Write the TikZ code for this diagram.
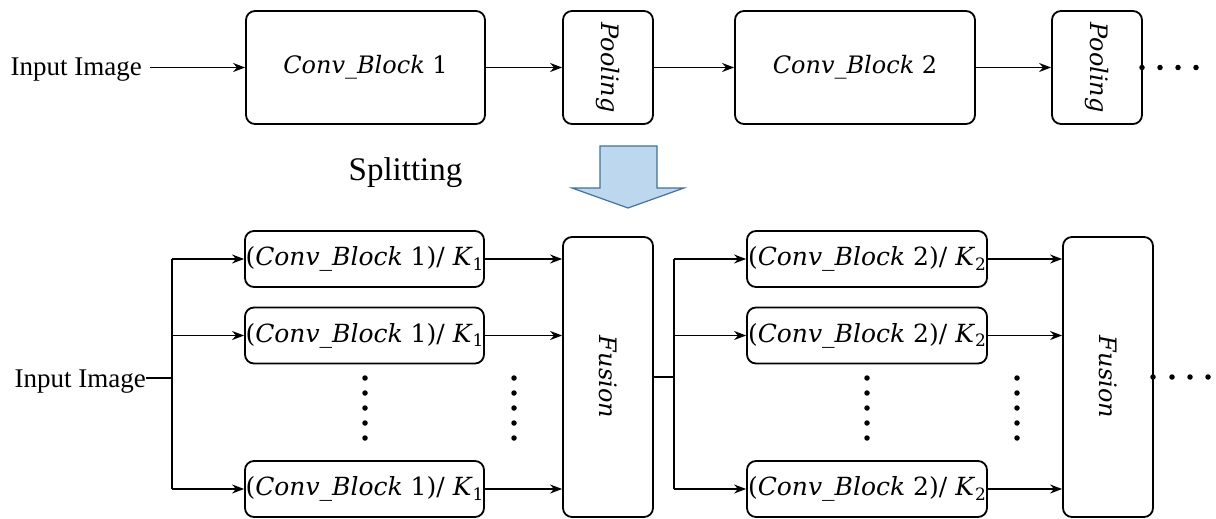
\documentclass[tikz,border=0pt]{standalone}
\usepackage{fontspec}
\setmainfont{Liberation Serif}
\newfontfamily\mfont{DejaVu Serif}
\usetikzlibrary{arrows.meta}
\definecolor{arrowfill}{RGB}{189,215,238}
\definecolor{arrowline}{RGB}{65,113,156}
\tikzset{
  blk/.style={draw, line width=1.8pt, rounded corners=9pt, inner sep=0pt,
    font=\mfont\fontsize{24}{28}\selectfont},
  sblk/.style={blk, font=\mfont\fontsize{25}{29}\selectfont},
  arr/.style={line width=1.4pt, -{Stealth[length=12pt,width=9pt]}},
  ln/.style={line width=1.4pt},
  lbl/.style={font=\fontsize{27}{32}\selectfont, inner sep=0pt},
  bigdot/.style={circle, fill, inner sep=0pt, minimum size=5.5pt},
}
\newcommand{\cbtext}[1]{\textit{Conv\_Block}~#1}
\newcommand{\cbk}[2]{(\textit{Conv\_Block}~#1)/~\textit{K}\raisebox{-0.35ex}{\fontsize{17}{19}\selectfont #2}}
\begin{document}
\begin{tikzpicture}[x=1pt,y=-1pt]
\useasboundingbox (0,0) rectangle (1216,519);
% ---------- top row ----------
\node[lbl, anchor=base east] (in1) at (142,76) {Input Image};
\node[blk, minimum width=239pt, minimum height=113pt] (c1) at (365.5,67.5) {\cbtext{1}};
\node[blk, minimum width=90pt, minimum height=113pt] (p1) at (608,67.5) {\rotatebox{-90}{\textit{Pooling}}};
\node[blk, minimum width=240pt, minimum height=113pt] (c2) at (855,67.5) {\cbtext{2}};
\node[blk, minimum width=90pt, minimum height=113pt] (p2) at (1097,67.5) {\rotatebox{-90}{\textit{Pooling}}};
\draw[arr] ([xshift=8pt]in1.east |- c1.west) -- (c1.west);
\draw[arr] (c1.east) -- (p1.west);
\draw[arr] (p1.east) -- (c2.west);
\draw[arr] (c2.east) -- (p2.west);
\foreach \i/\x in {1/1142,2/1160,3/1178,4/1196}
  \node[bigdot] (td\i) at (\x,67.5) {};
% ---------- splitting ----------
\node[font=\fontsize{33}{40}\selectfont, anchor=base, inner sep=0pt] (split) at (405.5,180) {Splitting};
\draw[fill=arrowfill, draw=arrowline, line width=1.2pt, line join=miter]
  (600,146) -- (657,146) -- (657,188) -- (684,188) -- (628,208) -- (572,188) -- (600,188) -- cycle;
% ---------- bottom ----------
\node[lbl, anchor=base east] (in2) at (146,387) {Input Image};
\coordinate (s1) at (172,378);
\node[sblk, minimum width=239pt, minimum height=56pt] (a1) at (364.5,259) {\cbk{1}{1}};
\node[sblk, minimum width=239pt, minimum height=56pt] (a2) at (364.5,335.5) {\cbk{1}{1}};
\node[sblk, minimum width=239pt, minimum height=56pt] (a3) at (364.5,489) {\cbk{1}{1}};
\node[blk, minimum width=90pt, minimum height=280pt] (f1) at (608,377) {\rotatebox{-90}{\textit{Fusion}}};
\coordinate (s2) at (674,377);
\node[sblk, minimum width=240pt, minimum height=56pt] (b1) at (867,259) {\cbk{2}{2}};
\node[sblk, minimum width=240pt, minimum height=56pt] (b2) at (867,335.5) {\cbk{2}{2}};
\node[sblk, minimum width=240pt, minimum height=56pt] (b3) at (867,489) {\cbk{2}{2}};
\node[blk, minimum width=90pt, minimum height=280pt] (f2) at (1108,377) {\rotatebox{-90}{\textit{Fusion}}};
\draw[ln] (in2.east |- s1) -- (s1);
\draw[ln] (a1.west -| s1) -- (a3.west -| s1);
\foreach \b in {a1,a2,a3} {
  \draw[arr] (\b.west -| s1) -- (\b.west);
  \draw[arr] (\b.east) -- (f1.west |- \b.east);
}
\draw[ln] (f1.east) -- (s2);
\draw[ln] (b1.west -| s2) -- (b3.west -| s2);
\foreach \b in {b1,b2,b3} {
  \draw[arr] (\b.west -| s2) -- (\b.west);
  \draw[arr] (\b.east) -- (f2.west |- \b.east);
}
\foreach \c/\x in {1/365,2/514,3/867,4/1017}
  \foreach \r/\y in {1/378,2/393,3/408,4/423,5/438}
    \node[bigdot] (v\c\r) at (\x,\y) {};
\foreach \i/\x in {1/1153,2/1172,3/1190,4/1208}
  \node[bigdot] (bd\i) at (\x,377) {};
\end{tikzpicture}
\end{document}
